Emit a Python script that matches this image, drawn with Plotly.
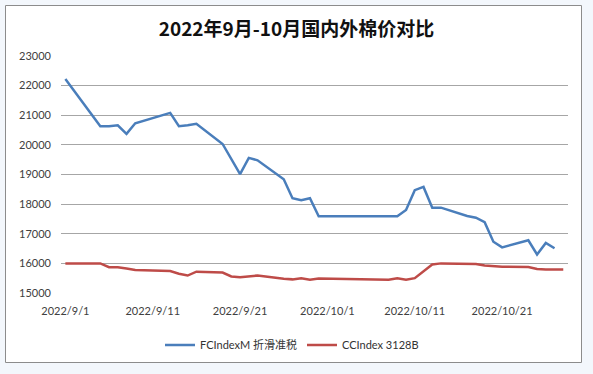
import plotly.graph_objects as go

title_text = "2022年9月-10月国内外棉价对比"

dates = ["2022-09-01", "2022-09-02", "2022-09-05", "2022-09-06", "2022-09-07", "2022-09-08",
         "2022-09-09", "2022-09-13", "2022-09-14", "2022-09-15", "2022-09-16", "2022-09-19",
         "2022-09-20", "2022-09-21", "2022-09-22", "2022-09-23", "2022-09-26", "2022-09-27",
         "2022-09-28", "2022-09-29", "2022-09-30", "2022-10-08", "2022-10-09", "2022-10-10",
         "2022-10-11", "2022-10-12", "2022-10-13", "2022-10-14", "2022-10-17", "2022-10-18",
         "2022-10-19", "2022-10-20", "2022-10-21", "2022-10-24", "2022-10-25", "2022-10-26",
         "2022-10-27", "2022-10-28"]

fcindex_name = "FCIndexM 折滑准税"
fcindex = [22220, 21820, 20630, 20630, 20660, 20370,
           20730, 21080, 20630, 20660, 20710, 20030,
           19520, 19010, 19560, 19480, 18840, 18200,
           18130, 18200, 17590, 17590, 17590, 17800,
           18470, 18580, 17880, 17880, 17600, 17540,
           17390, 16730, 16540, 16780, 16300, 16690,
           16510, None]

ccindex_name = "CCIndex 3128B"
ccindex = [16000, 16000, 16000, 15870, 15870, 15830,
           15780, 15740, 15650, 15590, 15720, 15690,
           15560, 15530, 15560, 15590, 15480, 15460,
           15500, 15450, 15490, 15450, 15500, 15450,
           15500, 15730, 15960, 16000, 16000, 15980,
           15930, 15910, 15890, 15880, 15810, 15790,
           15790, 15790]

x_tick_vals = ["2022-09-01", "2022-09-11", "2022-09-21", "2022-10-01", "2022-10-11", "2022-10-21"]
x_tick_text = ["2022/9/1", "2022/9/11", "2022/9/21", "2022/10/1", "2022/10/11", "2022/10/21"]
y_tick_vals = [15000, 16000, 17000, 18000, 19000, 20000, 21000, 22000, 23000]
y_tick_text = ["15000", "16000", "17000", "18000", "19000", "20000", "21000", "22000", "23000"]

fig = go.Figure()
fig.add_trace(go.Scatter(x=dates, y=fcindex, name=fcindex_name, mode="lines",
                         line=dict(color="#4A7EBB", width=2.5), connectgaps=False))
fig.add_trace(go.Scatter(x=dates, y=ccindex, name=ccindex_name, mode="lines",
                         line=dict(color="#BE4B48", width=2.5)))

W, H = 593, 374
L, R, T, B = 61, 568, 56, 293
pw, ph = R - L, B - T

def px_x(p):
    return (p - L) / pw

def px_y(p):
    return (B - p) / ph

outer = "#F3F7FC"
# light outer frame (outside the chart box)
for x0, x1, y0, y1 in [(0, 5, 0, H), (582, W, 0, H), (0, W, 0, 5), (0, W, 363, H)]:
    fig.add_shape(type="rect", xref="paper", yref="paper",
                  x0=px_x(x0), x1=px_x(x1), y0=px_y(y1), y1=px_y(y0),
                  line=dict(width=0), fillcolor=outer, layer="below")
fig.add_shape(type="rect", xref="paper", yref="paper",
              x0=px_x(5.5), x1=px_x(581.5), y0=px_y(362.5), y1=px_y(5.5),
              line=dict(color="#8C8C8C", width=1), fillcolor="rgba(0,0,0,0)", layer="below")

fig.update_layout(
    width=W, height=H,
    margin=dict(l=L, r=W - R, t=T, b=H - B),
    paper_bgcolor="white",
    plot_bgcolor="white",
    font=dict(family="Lato, 'Noto Sans CJK SC', sans-serif", size=11, color="#404040"),
    title=dict(text=title_text, x=0.5, xanchor="center", xref="container",
               y=1 - 29 / H, yanchor="middle", yref="container",
               font=dict(family="'Noto Sans CJK SC', sans-serif", size=19, color="#111111",
                         weight="bold")),
    showlegend=True,
    legend=dict(orientation="h", x=px_x(292), xanchor="center", y=px_y(345), yanchor="middle",
                font=dict(size=11, color="#333333"), bgcolor="rgba(0,0,0,0)",
                itemwidth=30, tracegroupgap=0),
    xaxis=dict(type="date", range=["2022-08-31 12:00", "2022-10-28 13:00"],
               tickmode="array", tickvals=x_tick_vals, ticktext=x_tick_text,
               showgrid=False, zeroline=False, showline=False, ticks="",
               ticklabelstandoff=10, tickfont=dict(size=11, color="#404040")),
    yaxis=dict(range=[15000, 23000], tickmode="array", tickvals=y_tick_vals, ticktext=y_tick_text,
               showgrid=True, gridcolor="#A6A6A6", gridwidth=1, zeroline=False,
               showline=False, ticks="", ticklabelstandoff=9,
               tickfont=dict(size=11, color="#404040")),
)

fig.write_html("out.html", config={"displayModeBar": False},
               post_script="document.body.style.margin='0';document.body.style.padding='0';")
